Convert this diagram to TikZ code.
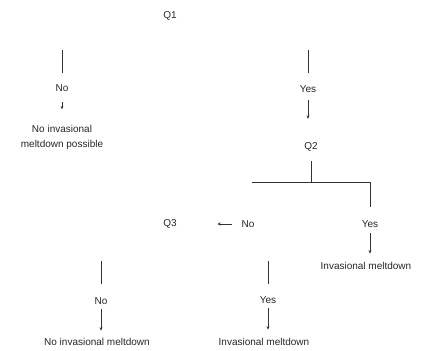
\documentclass[tikz,border=0pt]{standalone}
\usepackage{fontspec}
\setmainfont{Liberation Sans}
\usepackage{tikz}
\usetikzlibrary{arrows.meta}
\usetikzlibrary{positioning}

\begin{document}
\begin{tikzpicture}[x=0.75pt,y=0.75pt,yscale=-1,xscale=1,
  txt/.style={inner sep=0.75pt,text=black!85,font=\fontsize{7.5}{11.25}\selectfont,align=center},
  ln/.style={line width=0.7pt,color=black!80},
  arr/.style={ln,-{Stealth[length=2.6pt,width=2.2pt]}}]
\useasboundingbox (0,0) rectangle (430,351);

% Text Node
\node[txt] (q1) at (170,16) {Q1};
% Text Node
\node[txt] (no1) at (62,88) {No};
% Text Node
\node[txt] (res1) at (62,137.5) {No invasional\\meltdown possible};
% Text Node
\node[txt] (yes1) at (308,89) {Yes};
% Text Node
\node[txt] (q2) at (311,147) {Q2};
% Text Node
\node[txt] (yes2) at (370,224) {Yes};
% Text Node
\node[txt] (res2) at (366,266) {Invasional meltdown};
% Text Node
\node[txt] (no2) at (248,224) {No};
% Text Node
\node[txt] (q3) at (170,224) {Q3};
% Text Node
\node[txt] (no3) at (101,301) {No};
% Text Node
\node[txt] (res3) at (97,342) {No invasional meltdown};
% Text Node
\node[txt] (yes3) at (268,300) {Yes};
% Text Node
\node[txt] (res4) at (264,342) {Invasional meltdown};

%Free ends
\coordinate (lt1) at (62,50);
\coordinate (rt1) at (308,50);
\coordinate (j2) at (311,182);
\coordinate (jl) at (252,182);
\coordinate (jr) at (370,182);
\coordinate (lt3) at (101,261);
\coordinate (rt3) at (268,261);

%Straight Lines - Q1 branches
\draw[ln, shorten >=7.8pt] (lt1) -- (no1);
\draw[arr, shorten <=7pt, shorten >=11pt] (no1) -- (res1);
\draw[ln, shorten >=8.5pt] (rt1) -- (yes1);
\draw[arr, shorten <=4.8pt, shorten >=16.8pt] (yes1) -- (yes1 |- q2.north);
%Straight Lines - Q2 branches
\draw[ln, shorten <=6.3pt] (q2) -- (j2);
\draw[ln, shorten >=9.3pt] (jl) -- (jr) -- (yes2);
\draw[arr, shorten <=3.3pt, shorten >=5.6pt] (yes2) -- (yes2 |- res2.north);
\draw[arr, shorten <=6.5pt, shorten >=29.5pt] (no2) -- (q3);
%Straight Lines - Q3 branches
\draw[ln, shorten >=9.3pt] (lt3) -- (no3);
\draw[arr, shorten <=2.6pt, shorten >=4.8pt] (no3) -- (no3 |- res3.north);
\draw[ln, shorten >=8.6pt] (rt3) -- (yes3);
\draw[arr, shorten <=2.6pt, shorten >=5.6pt] (yes3) -- (yes3 |- res4.north);

\end{tikzpicture}
\end{document}
